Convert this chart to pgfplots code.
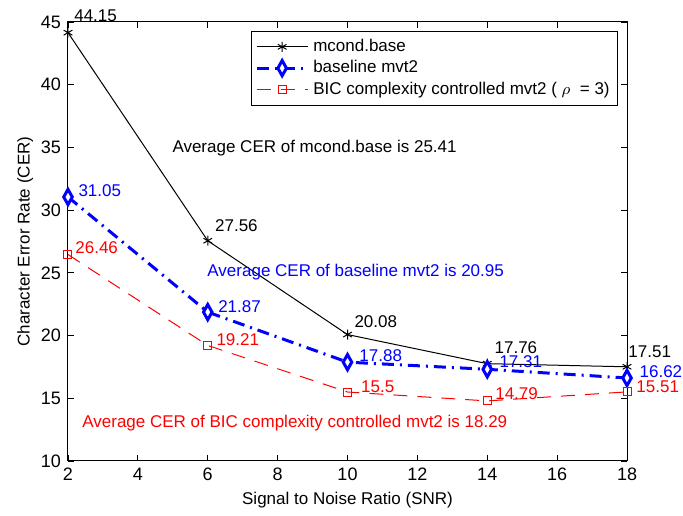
\documentclass[border=0pt]{standalone}
\usepackage{fontspec}
\setmainfont{Liberation Sans}
\usepackage{pgfplots}
\pgfplotsset{compat=1.18}
\tikzset{lbl/.style={anchor=west, inner sep=0pt, font=\fontsize{8.5}{10}\selectfont}}

\begin{document}
\begin{tikzpicture}
\begin{axis}[
    scale only axis,
    width=279.5pt, height=219.5pt,
    xmin=2, xmax=18, ymin=10, ymax=45,
    clip=false,
    xtick={2,4,...,18}, ytick={10,15,...,45},
    tick align=inside,
    major tick length=3pt,
    tick style={black, line width=0.4pt},
    axis line style={line width=0.5pt},
    ticklabel style={font=\fontsize{9}{10}\selectfont},
    /pgf/number format/assume math mode=true,
    xlabel={Signal to Noise Ratio (SNR)},
    ylabel={Character Error Rate (CER)},
    label style={font=\fontsize{8.5}{10}\selectfont},
    xlabel style={yshift=1pt},
    ylabel style={yshift=-3pt},
    legend style={at={(0.984,0.98)}, anchor=north east, draw=black,
        font=\fontsize{8.5}{10}\selectfont, row sep=-1pt, inner sep=2pt,
        cells={anchor=west}},
    legend cell align=left,
    legend image code/.code={\draw[mark repeat=2, mark phase=2]
        plot coordinates {(0cm,0cm) (0.45cm,0cm) (0.9cm,0cm)};},
]
\addplot[black, line width=0.5pt, mark=asterisk, mark size=2.5pt]
    coordinates {(2,44.15) (6,27.56) (10,20.08) (14,17.76) (18,17.51)};
\addlegendentry{mcond.base}
\addplot[blue, line width=1.5pt, dash pattern=on 6pt off 3pt on 1pt off 3pt,
    mark=diamond*, mark size=3.8pt,
    mark options={solid, blue, fill=white, line width=1.5pt, xscale=0.75}]
    coordinates {(2,31.05) (6,21.87) (10,17.88) (14,17.31) (18,16.62)};
\addlegendentry{baseline mvt2}
\addplot[red, line width=0.5pt, dash pattern=on 7pt off 5pt,
    mark=square, mark size=2pt, mark options={solid, red, line width=0.5pt}]
    coordinates {(2,26.46) (6,19.21) (10,15.5) (14,14.79) (18,15.51)};
\addlegendentry{BIC complexity controlled mvt2 ( $\rho$\ \ = 3)}

\node[lbl, black] at (axis cs:2.17,45.48) {44.15};
\node[lbl, black] at (axis cs:6.2,28.73) {27.56};
\node[lbl, black] at (axis cs:10.19,21.08) {20.08};
\node[lbl, black] at (axis cs:14.2,19.0) {17.76};
\node[lbl, black] at (axis cs:18.03,18.68) {17.51};

\node[lbl, blue] at (axis cs:2.29,31.52) {31.05};
\node[lbl, blue] at (axis cs:6.29,22.27) {21.87};
\node[lbl, blue] at (axis cs:10.33,18.37) {17.88};
\node[lbl, blue] at (axis cs:14.34,17.89) {17.31};
\node[lbl, blue] at (axis cs:18.35,17.1) {16.62};

\node[lbl, red] at (axis cs:2.2,26.98) {26.46};
\node[lbl, red] at (axis cs:6.24,19.64) {19.21};
\node[lbl, red] at (axis cs:10.38,15.89) {15.5};
\node[lbl, red] at (axis cs:14.22,15.33) {14.79};
\node[lbl, red] at (axis cs:18.26,15.9) {15.51};

\node[lbl, black] at (axis cs:4.98,34.95) {Average CER of mcond.base is 25.41};
\node[lbl, blue] at (axis cs:5.98,25.06) {Average CER of baseline mvt2 is 20.95};
\node[lbl, red] at (axis cs:2.4,13.02) {Average CER of BIC complexity controlled mvt2 is 18.29};
\end{axis}
\path (current axis.south west) ++(-34pt,-26pt) coordinate (bl);
\path (current axis.north east) ++(28pt,11pt) coordinate (tr);
\path (bl) rectangle (tr);
\end{tikzpicture}
\end{document}
